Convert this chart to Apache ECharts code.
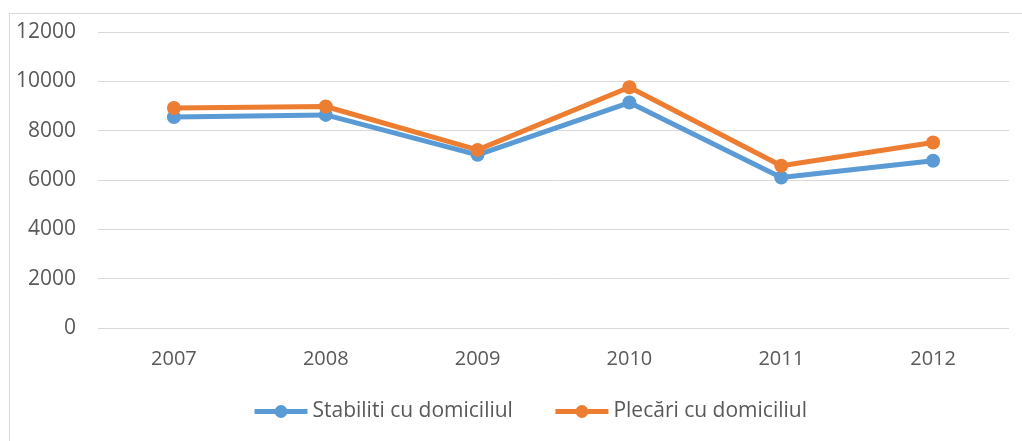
<!DOCTYPE html>
<html>
<head>
<meta charset="utf-8">
<script src="https://cdn.jsdelivr.net/npm/echarts@6/dist/echarts.min.js"></script>
<style>
  html, body { margin: 0; padding: 0; background: #fff; }
  #chart { width: 1022px; height: 441px; }
</style>
</head>
<body>
<div id="chart"></div>
<script>
const years = ['2007', '2008', '2009', '2010', '2011', '2012'];
const stabiliti = [8550, 8640, 7020, 9140, 6100, 6780];
const plecari = [8920, 8980, 7220, 9760, 6575, 7520];

const chart = echarts.init(document.getElementById('chart'));
const font = 'Open Sans, Liberation Sans, sans-serif';

chart.setOption({
  animation: false,
  graphic: [{
    type: 'rect',
    shape: { x: 9.5, y: 13.5, width: 1030, height: 440 },
    style: { fill: 'none', stroke: '#d9d9d9', lineWidth: 1 },
    silent: true
  }],
  grid: { left: 98, right: 13, top: 32, bottom: 113 },
  xAxis: {
    type: 'category',
    data: years,
    axisLine: { show: false },
    axisTick: { show: false },
    axisLabel: { color: '#595959', fontSize: 20, fontFamily: font, margin: 21 }
  },
  yAxis: {
    type: 'value',
    min: 0,
    max: 12000,
    interval: 2000,
    axisLine: { show: false },
    axisTick: { show: false },
    axisLabel: {
      color: '#595959', fontSize: 21, fontFamily: font, margin: 22,
      formatter: v => String(v)
    },
    splitLine: { lineStyle: { color: '#d9d9d9', width: 1 } }
  },
  legend: {
    top: 396,
    left: 247,
    itemWidth: 53,
    itemHeight: 16,
    itemGap: 40,
    lineStyle: { width: 5 },
    textStyle: { color: '#595959', fontSize: 21, fontFamily: font },
    data: ['Stabiliti cu domiciliul', 'Plecări cu domiciliul']
  },
  series: [
    {
      name: 'Stabiliti cu domiciliul',
      type: 'line',
      data: stabiliti,
      symbol: 'circle',
      symbolSize: 14,
      lineStyle: { color: '#5b9bd5', width: 5 },
      itemStyle: { color: '#5b9bd5' }
    },
    {
      name: 'Plecări cu domiciliul',
      type: 'line',
      data: plecari,
      symbol: 'circle',
      symbolSize: 14,
      lineStyle: { color: '#ed7d31', width: 5 },
      itemStyle: { color: '#ed7d31' }
    }
  ]
});
</script>
</body>
</html>
